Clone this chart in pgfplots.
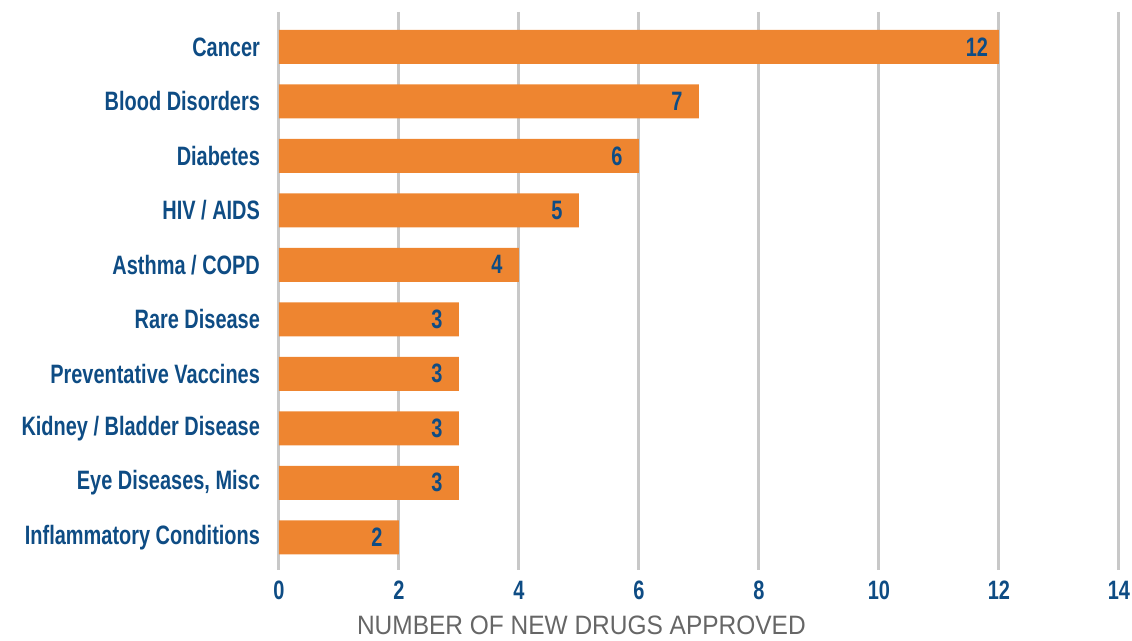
\documentclass[border=0pt]{standalone}
\usepackage{pgfplots}
\pgfplotsset{compat=1.18}
\usepackage{fontspec}
\setmainfont{Liberation Sans}
\newfontfamily\condbold[FakeStretch=0.75]{Liberation Sans Bold}
\newfontfamily\condreg[FakeStretch=0.92]{Liberation Sans}
\definecolor{barorange}{HTML}{EE8530}
\definecolor{txtblue}{HTML}{0E4C84}
\definecolor{gridgray}{HTML}{C8C8C8}
\definecolor{labgray}{HTML}{666666}
\begin{document}
\begin{tikzpicture}
\useasboundingbox (-139.5pt,-35.5pt) rectangle (426.5pt,285pt);
\begin{axis}[
  scale only axis,
  width=420pt, height=279pt,
  xbar, bar width=17pt,
  xmin=0, xmax=14,
  ymin=-0.64, ymax=9.6,
  y dir=reverse,
  xtick={0,2,...,14},
  ytick={0,...,9},
  yticklabels={Cancer,Blood Disorders,Diabetes,HIV / AIDS,Asthma / COPD,Rare Disease,Preventative Vaccines,Kidney / Bladder Disease,Eye Diseases{,} Misc,Inflammatory Conditions},
  axis line style={draw=none},
  major tick length=0pt,
  xmajorgrids,
  grid style={gridgray, line width=1.5pt},
  tick label style={font=\fontsize{13.3}{15}\condbold, text=txtblue},
  /pgf/number format/assume math mode=true,
  yticklabel style={xshift=-6pt},
  xticklabel style={yshift=-2pt},
  xlabel={NUMBER OF NEW DRUGS APPROVED},
  xlabel style={at={(axis description cs:0.36,0)}, anchor=center, yshift=-27.5pt, font=\fontsize{13.3}{15}\condreg, text=labgray},
  nodes near coords,
  every node near coord/.append style={font=\fontsize{13.3}{15}\condbold, text=txtblue, anchor=center, xshift=-11pt},
  clip=false,
]
\addplot[fill=barorange, draw=none] coordinates {
(12,0) (7,1) (6,2) (5,3) (4,4) (3,5) (3,6) (3,7) (3,8) (2,9)
};
\end{axis}
\end{tikzpicture}
\end{document}
